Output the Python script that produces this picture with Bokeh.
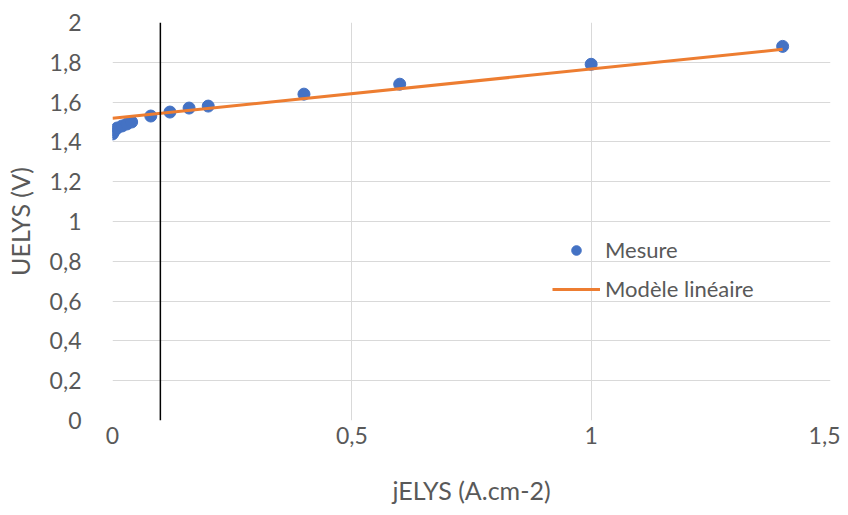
from bokeh.plotting import figure
from bokeh.models import Span, Legend, LegendItem, FixedTicker, Range1d
from bokeh.embed import file_html
from bokeh.resources import INLINE

# Measured data
j_elys = [0.0, 0.002, 0.005, 0.01, 0.02, 0.03, 0.04, 0.08, 0.12, 0.16, 0.2, 0.4, 0.6, 1.0, 1.4]
u_elys = [1.44, 1.45, 1.46, 1.47, 1.48, 1.49, 1.50, 1.53, 1.55, 1.57, 1.58, 1.64, 1.69, 1.79, 1.88]

# Linear model
model_x = [0.0, 1.4]
model_y = [1.519, 1.865]

marker_x = 0.1

x_ticks = [0, 0.5, 1, 1.5]
x_labels = ["0", "0,5", "1", "1,5"]
y_ticks = [0, 0.2, 0.4, 0.6, 0.8, 1.0, 1.2, 1.4, 1.6, 1.8, 2.0]
y_labels = ["0", "0,2", "0,4", "0,6", "0,8", "1", "1,2", "1,4", "1,6", "1,8", "2"]

FONT = "Lato"
GRAY = "#595959"

p = figure(width=840, height=507, output_backend="svg", toolbar_location=None,
           x_range=Range1d(0, 1.5), y_range=Range1d(0, 2),
           min_border_left=112, min_border_right=10, min_border_top=22, min_border_bottom=86)
p.outline_line_color = None
p.background_fill_color = "white"

for ax in (p.xaxis[0], p.yaxis[0]):
    ax.axis_line_color = None
    ax.major_tick_line_color = None
    ax.minor_tick_line_color = None
    ax.major_label_text_font = FONT
    ax.major_label_text_color = GRAY
    ax.major_label_text_font_size = "23px"
    ax.axis_label_text_font = FONT
    ax.axis_label_text_color = GRAY
    ax.axis_label_text_font_size = "25px"
    ax.axis_label_text_font_style = "normal"

p.xaxis.ticker = FixedTicker(ticks=x_ticks)
p.xaxis.major_label_overrides = {t: l for t, l in zip(x_ticks, x_labels)}
p.yaxis.ticker = FixedTicker(ticks=y_ticks)
p.yaxis.major_label_overrides = {t: l for t, l in zip(y_ticks, y_labels)}
p.xaxis.axis_label = "jELYS (A.cm-2)"
p.yaxis.axis_label = "UELYS (V)"
p.xaxis.major_label_standoff = 0
p.xaxis.axis_label_standoff = 28
p.yaxis.major_label_standoff = 25
p.yaxis.axis_label_standoff = 12

p.xgrid.grid_line_color = "#d9d9d9"
p.ygrid.grid_line_color = "#d9d9d9"
p.xgrid.grid_line_width = 1
p.ygrid.grid_line_width = 1

p.add_layout(Span(location=marker_x, dimension="height", line_color="black", line_width=1.5))

r_pts = p.scatter(j_elys, u_elys, size=12, fill_color="#4472C4", line_color="#4472C4")
r_line = p.line(model_x, model_y, line_color="#ED7D31", line_width=3)

legend = Legend(items=[LegendItem(label="Mesure", renderers=[r_pts]),
                       LegendItem(label="Modèle linéaire", renderers=[r_line])],
                location=(440, 118), orientation="vertical",
                border_line_color=None, background_fill_alpha=0,
                padding=0, margin=0, spacing=12,
                glyph_width=48, glyph_height=24, label_height=26, label_standoff=5,
                label_text_font=FONT, label_text_font_size="22px", label_text_color=GRAY)
p.add_layout(legend)

open("out.html", "w").write(file_html(p, INLINE))
